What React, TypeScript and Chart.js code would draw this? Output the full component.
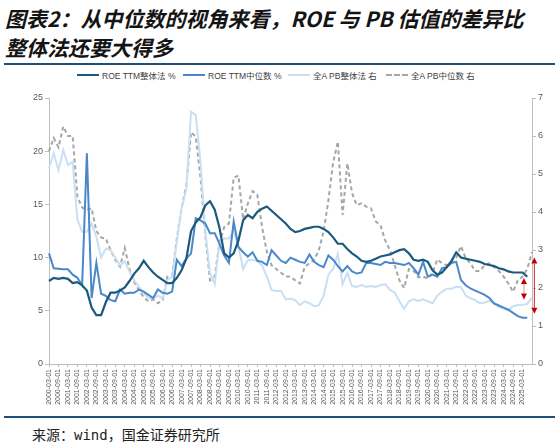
import React, { useEffect, useRef } from "react";
import { Chart, registerables } from "chart.js";

Chart.register(...registerables);

// Quarterly categories 2000-03-01 ... 2025-09-01
const categories: string[] = [];
for (let y = 2000; y <= 2025; y++) {
  for (const m of ["03", "06", "09", "12"]) {
    if (y === 2025 && (m === "12")) continue;
    categories.push(`${y}-${m}-01`);
  }
}
const lastLabelIndex = 100; // 2025-03-01

// ROE TTM 整体法 (%), left axis
const roeTotal = [
  7.8, 8.1, 8.0, 8.1, 8.0, 7.6, 7.7, 7.4, 6.9, 5.3,
  4.6, 4.6, 5.8, 6.7, 6.7, 6.9, 7.2, 7.8, 8.5, 9.0,
  9.7, 9.1, 8.6, 8.2, 7.9, 7.6, 7.6, 8.1, 8.8, 9.9,
  12.5, 13.3, 13.8, 14.9, 15.3, 14.5, 12.8, 10.4, 10.0, 10.4,
  11.6, 13.5, 14.0, 13.7, 14.3, 14.6, 14.8, 14.4, 14.0, 13.6,
  13.2, 12.7, 12.4, 12.5, 12.7, 12.8, 12.9, 12.9, 12.7, 12.4,
  11.9, 11.3, 11.3, 10.8, 10.4, 10.1, 9.7, 9.6, 9.7, 9.9,
  10.1, 10.2, 10.3, 10.5, 10.7, 10.8, 10.4, 9.8, 9.7, 9.8,
  9.6, 8.8, 8.4, 8.6, 9.1, 9.7, 10.5, 10.0, 9.9, 9.8,
  9.7, 9.6, 9.4, 9.3, 9.2, 9.0, 8.9, 8.7, 8.6, 8.6,
  8.6, 8.2, null,
];

// ROE TTM 中位数 (%), left axis
const roeMedian = [
  10.4, 9.0, 8.95, 8.9, 8.9, 8.4, 8.1, 7.4, 19.8, 6.2,
  9.5, 6.6, 6.4, 6.0, 5.9, 7.0, 6.6, 6.7, 6.7, 7.0,
  6.8, 6.5, 6.2, 7.0, 6.7, 6.6, 6.8, 9.8, 9.2, 9.9,
  10.4, 13.7, 13.5, 13.2, 12.3, 12.3, 11.3, 10.2, 9.5, 13.4,
  11.0, 10.5, 10.1, 10.5, 9.7, 9.6, 9.3, 10.7, 10.2, 9.7,
  9.5, 10.0, 9.8, 9.6, 9.5, 10.3, 9.6, 9.3, 9.1, 10.2,
  9.8, 9.2, 8.7, 9.2, 8.7, 8.5, 8.6, 9.5, 9.5, 9.4,
  9.3, 9.6, 9.5, 9.5, 9.4, 9.3, 9.5, 9.0, 8.4, 9.6,
  8.2, 8.4, 8.2, 9.0, 9.1, 9.5, 9.6, 7.9, 7.4, 7.1,
  6.9, 6.7, 6.5, 6.2, 5.7, 5.5, 5.3, 5.1, 4.8, 4.5,
  4.35, 4.35, null,
];

// 全A PB 整体法, right axis
const pbTotal = [
  5.15, 5.54, 5.1, 5.63, 5.24, 5.32, 3.8, 3.48, 3.48, 3.7,
  3.35, 2.8, 3.04, 3.0, 2.8, 2.6, 2.7, 2.43, 2.2, 2.03,
  1.86, 1.73, 1.73, 1.8, 1.73, 2.21, 2.3, 3.2, 4.1, 4.6,
  6.64, 6.55, 5.3, 3.5, 2.4, 2.1, 3.2, 3.3, 3.3, 3.5,
  3.1, 2.5, 2.74, 2.74, 2.7, 2.6, 2.3, 1.95, 1.92, 1.92,
  1.7, 1.72, 1.68, 1.55, 1.65, 1.6, 1.52, 1.55, 1.8, 2.35,
  2.5, 2.9, 2.1, 2.4, 2.05, 2.03, 2.08, 2.03, 2.05, 2.03,
  2.08, 2.1, 1.95, 1.88, 1.65, 1.45, 1.65, 1.7, 1.66, 1.7,
  1.65, 1.6, 1.8, 1.9, 1.98, 1.98, 2.03, 2.02, 1.8, 1.73,
  1.68, 1.6, 1.62, 1.66, 1.58, 1.5, 1.46, 1.42, 1.52, 1.55,
  1.56, 1.58, 1.75,
];

// 全A PB 中位数, right axis
const pbMedian = [
  5.6, 5.95, 5.7, 6.25, 6.0, 6.0, 4.4, 4.12, 4.05, 4.1,
  3.5, 3.33, 3.3, 3.0, 2.74, 2.56, 3.05, 2.5, 2.15, 1.95,
  1.75, 1.65, 1.7, 1.6, 1.68, 2.3, 2.33, 3.3, 4.1, 4.7,
  6.1, 5.98, 4.9, 3.4, 2.2, 2.3, 3.2, 3.6, 3.7, 4.9,
  4.96, 3.8, 4.23, 4.55, 4.45, 3.6, 2.95, 2.6, 2.5, 2.4,
  2.3, 2.3, 2.2, 2.12, 2.56, 2.65, 2.74, 3.0, 3.5, 4.3,
  5.3, 5.85, 3.92, 5.28, 4.5, 4.18, 4.23, 4.14, 4.1, 3.75,
  3.65, 3.25, 3.0, 2.6, 2.2, 2.0, 2.5, 2.45, 2.28, 2.3,
  2.25, 2.4, 2.75, 2.65, 2.6, 2.7, 2.8, 3.1, 2.78, 2.65,
  2.45, 2.45, 2.6, 2.65, 2.55, 2.45, 2.3, 2.12, 1.9, 2.2,
  2.3, 2.5, 2.95,
];

// Red double-headed arrows (category index, right-axis values)
const arrowIndex = [100.3, 102.5];
const arrowTop = [2.26, 2.8];
const arrowBottom = [1.7, 1.32];

const seriesNames = ["ROE TTM整体法 %", "ROE TTM中位数 %", "全A PB整体法 右", "全A PB中位数 右"];
const seriesColors = ["#1B5A7E", "#4A88C9", "#C9DFF3", "#A6A6A6"];

const arrowPlugin = {
  id: "arrows",
  afterDatasetsDraw(chart: any) {
    const ctx = chart.ctx;
    const xs = chart.scales.x;
    const ys = chart.scales.y1;
    ctx.save();
    for (let i = 0; i < arrowIndex.length; i++) {
      const px = xs.getPixelForValue(arrowIndex[i]);
      const top = ys.getPixelForValue(arrowTop[i]);
      const bot = ys.getPixelForValue(arrowBottom[i]);
      const hl = 6;
      const hw = 3;
      ctx.strokeStyle = i === 0 ? "#E88A8A" : "#D42A2A";
      ctx.lineWidth = 1;
      ctx.beginPath();
      ctx.moveTo(px, top + hl);
      ctx.lineTo(px, bot - hl);
      ctx.stroke();
      ctx.fillStyle = "#C00000";
      ctx.beginPath();
      ctx.moveTo(px, top);
      ctx.lineTo(px - hw, top + hl);
      ctx.lineTo(px + hw, top + hl);
      ctx.closePath();
      ctx.fill();
      ctx.beginPath();
      ctx.moveTo(px, bot);
      ctx.lineTo(px - hw, bot - hl);
      ctx.lineTo(px + hw, bot - hl);
      ctx.closePath();
      ctx.fill();
    }
    ctx.restore();
  },
};

const tickFont = { family: '"Liberation Sans", Arial, sans-serif', size: 9 };

export default function App() {
  const ref = useRef<HTMLCanvasElement | null>(null);

  useEffect(() => {
    if (!ref.current) return;
    const chart = new Chart(ref.current, {
      type: "line",
      data: {
        labels: categories,
        datasets: [
          { label: seriesNames[0], data: roeTotal, yAxisID: "y", borderColor: seriesColors[0], backgroundColor: seriesColors[0], borderWidth: 2.2 },
          { label: seriesNames[1], data: roeMedian, yAxisID: "y", borderColor: seriesColors[1], backgroundColor: seriesColors[1], borderWidth: 2 },
          { label: seriesNames[2], data: pbTotal, yAxisID: "y1", borderColor: seriesColors[2], backgroundColor: seriesColors[2], borderWidth: 2 },
          { label: seriesNames[3], data: pbMedian, yAxisID: "y1", borderColor: seriesColors[3], backgroundColor: seriesColors[3], borderWidth: 2, borderDash: [4, 3] },
        ] as any,
      },
      options: {
        animation: false,
        responsive: false,
        events: [],
        layout: { padding: { top: 13, left: 0, right: 0, bottom: 0 } },
        elements: { point: { radius: 0 }, line: { tension: 0 } },
        plugins: { legend: { display: false }, tooltip: { enabled: false }, title: { display: false } },
        scales: {
          x: {
            type: "category",
            offset: false,
            grid: { drawOnChartArea: false, drawTicks: true, tickLength: 3, color: "#BFBFBF" },
            border: { color: "#BFBFBF" },
            ticks: {
              autoSkip: false,
              maxRotation: 90,
              minRotation: 90,
              padding: 2,
              color: "#595959",
              font: { family: '"Liberation Sans", Arial, sans-serif', size: 7 },
              callback: (v: any, i: number) => (i % 2 === 0 && i <= lastLabelIndex ? categories[i] : null),
            },
            afterFit: (s: any) => { s.height = 51; },
          },
          y: {
            position: "left",
            min: 0,
            max: 25,
            grid: { drawOnChartArea: false, tickLength: 4, color: "#BFBFBF" },
            border: { color: "#BFBFBF" },
            ticks: { stepSize: 5, color: "#595959", font: tickFont, padding: 2 },
            afterFit: (s: any) => { s.width = 49; },
          },
          y1: {
            position: "right",
            min: 0,
            max: 7,
            grid: { drawOnChartArea: false, tickLength: 4, color: "#BFBFBF" },
            border: { color: "#BFBFBF" },
            ticks: { stepSize: 1, color: "#595959", font: tickFont, padding: 2 },
            afterFit: (s: any) => { s.width = 27; },
          },
        },
      } as any,
      plugins: [arrowPlugin],
    });
    return () => chart.destroy();
  }, []);

  const legendFont = '"Liberation Sans", Arial, "Noto Sans CJK SC", sans-serif';
  const legendLeft = [77, 183, 288, 386];

  return (
    <div style={{ position: "fixed", left: 0, top: 0, width: 559, height: 446, background: "#fff", overflow: "hidden" }}>
      <div
        style={{
          position: "absolute",
          left: 5,
          top: 4,
          fontFamily: '"Noto Sans CJK SC", sans-serif',
          fontSize: 21,
          fontWeight: 700,
          fontStyle: "italic",
          lineHeight: "29px",
          color: "#141414",
          whiteSpace: "nowrap",
        }}
      >
        <div>图表2：从中位数的视角来看，ROE 与 PB 估值的差异比</div>
        <div>整体法还要大得多</div>
      </div>
      <div style={{ position: "absolute", left: 4, top: 63, width: 551, height: 2, background: "#1F4E79" }} />
      {seriesNames.map((n, i) => (
        <div
          key={n}
          style={{
            position: "absolute",
            left: legendLeft[i],
            top: 69,
            height: 12,
            display: "flex",
            alignItems: "center",
            fontFamily: legendFont,
            fontSize: 8.5,
            color: "#404040",
            whiteSpace: "nowrap",
          }}
        >
          <div
            style={{
              width: 22,
              height: 0,
              borderTop: i === 3 ? `2px dashed ${seriesColors[i]}` : `2px solid ${seriesColors[i]}`,
              marginRight: 3,
            }}
          />
          <span>{n}</span>
        </div>
      ))}
      <div style={{ position: "absolute", left: 0, top: 85, width: 559, height: 330 }}>
        <canvas ref={ref} width={559} height={330} style={{ width: 559, height: 330, display: "block" }} />
      </div>
      <div style={{ position: "absolute", left: 4, top: 416, width: 551, height: 2, background: "#1F4E79" }} />
      <div
        style={{
          position: "absolute",
          left: 32,
          top: 426,
          fontFamily: '"DejaVu Sans Mono", "Noto Sans CJK SC", monospace',
          fontSize: 14,
          lineHeight: "18px",
          color: "#222",
          whiteSpace: "nowrap",
        }}
      >
        来源：wind，国金证券研究所
      </div>
    </div>
  );
}
